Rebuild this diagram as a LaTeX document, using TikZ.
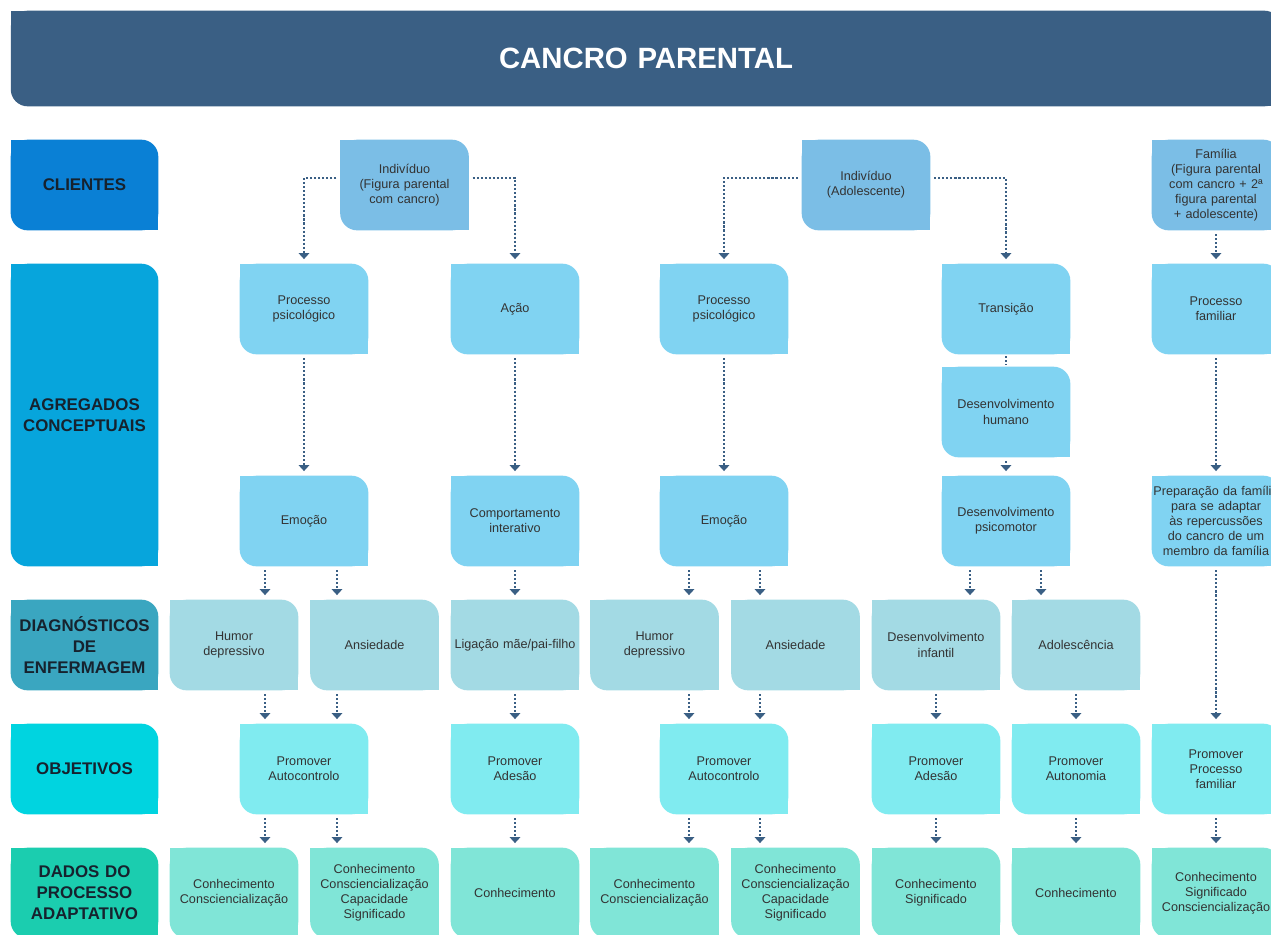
\documentclass[tikz,border=0pt]{standalone}
\usepackage{fontspec}
\setmainfont{Liberation Sans}
\usetikzlibrary{arrows.meta,backgrounds}

\definecolor{cabeca}{HTML}{3A5F84}
\definecolor{lcli}{HTML}{0A80D5}
\definecolor{lagr}{HTML}{07A5DC}
\definecolor{ldia}{HTML}{3AA6C0}
\definecolor{lobj}{HTML}{00D4E0}
\definecolor{ldad}{HTML}{1BCDAF}
\definecolor{ccli}{HTML}{7BBEE6}
\definecolor{cagr}{HTML}{80D3F2}
\definecolor{cdia}{HTML}{A3DAE4}
\definecolor{cobj}{HTML}{80EBF0}
\definecolor{cdad}{HTML}{80E5D7}
\definecolor{texto}{HTML}{333333}
\definecolor{escuro}{HTML}{16222E}

\tikzset{
  caixa/.style={text width=2.56cm, minimum height=1.8cm, inner xsep=0pt, inner ysep=1pt,
    align=center, text=texto, font=\fontsize{7.2}{8.6}\selectfont},
  rotulo/.style={text width=2.94cm, minimum height=1.8cm, inner xsep=0pt, inner ysep=1pt,
    align=center, text=escuro, font=\bfseries\fontsize{9.6}{11.9}\selectfont},
  seta/.style={-{Triangle[length=3.4pt,width=6pt]}, cabeca, line width=1.2pt,
    dash pattern=on 1.2pt off 1.1pt, shorten <=2.2pt, shorten >=2.6pt},
  linha/.style={seta, -, shorten <=1pt, shorten >=1pt},
}

\begin{document}
\begin{tikzpicture}[x=0.02cm,y=-0.02cm]
  \useasboundingbox (0,0) rectangle (1271,934);
  \clip (0,0) rectangle (1271,934);

  % titulo
  \node[rotulo, text width=25.4cm, minimum height=1.9cm, text=white,
    font=\bfseries\fontsize{16.7}{20}\selectfont] (cab) at (646,58.5) {CANCRO PARENTAL};

  % rotulos a esquerda
  \node[rotulo] (cli) at (84.5,185) {CLIENTES};
  \node[rotulo, minimum height=6.04cm] (agr) at (84.5,415) {AGREGADOS\\CONCEPTUAIS};
  \node[rotulo] (dia) at (84.5,645) {DIAGNÓSTICOS\\DE\\ENFERMAGEM};
  \node[rotulo] (obj) at (84.5,769) {OBJETIVOS};
  \node[rotulo] (dad) at (84.5,893) {DADOS DO\\PROCESSO\\ADAPTATIVO};

  % clientes
  \node[caixa] (i1) at (404.5,185) {Indivíduo\\(Figura parental\\com cancro)};
  \node[caixa] (i2) at (866,185) {Indivíduo\\(Adolescente)};
  \node[caixa] (fam) at (1216,185) {Família\\(Figura parental\\com cancro + 2ª\\figura parental\\+ adolescente)};

  % agregados conceptuais
  \node[caixa] (pp1) at (304,309) {Processo\\psicológico};
  \node[caixa] (acao) at (515,309) {Ação};
  \node[caixa] (pp2) at (724,309) {Processo\\psicológico};
  \node[caixa] (tra) at (1006,309) {Transição};
  \node[caixa] (pf) at (1216,309) {Processo\\familiar};
  \node[caixa] (dh) at (1006,412) {Desenvolvimento\\humano};
  \node[caixa] (em1) at (304,521) {Emoção};
  \node[caixa] (ci) at (515,521) {Comportamento\\interativo};
  \node[caixa] (em2) at (724,521) {Emoção};
  \node[caixa] (dp) at (1006,521) {Desenvolvimento\\psicomotor};
  \node[caixa] (prep) at (1216,521) {Preparação da família\\para se adaptar\\às repercussões\\do cancro de um\\membro da família};

  % diagnosticos
  \node[caixa] (hd1) at (234,645) {Humor\\depressivo};
  \node[caixa] (an1) at (374.5,645) {Ansiedade};
  \node[caixa] (lig) at (515,645) {Ligação mãe/pai-filho};
  \node[caixa] (hd2) at (654.5,645) {Humor\\depressivo};
  \node[caixa] (an2) at (795.5,645) {Ansiedade};
  \node[caixa] (di) at (936,645) {Desenvolvimento\\infantil};
  \node[caixa] (ado) at (1076,645) {Adolescência};

  % objetivos
  \node[caixa] (pa1) at (304,769) {Promover\\Autocontrolo};
  \node[caixa] (pad1) at (515,769) {Promover\\Adesão};
  \node[caixa] (pa2) at (724,769) {Promover\\Autocontrolo};
  \node[caixa] (pad2) at (936,769) {Promover\\Adesão};
  \node[caixa] (paut) at (1076,769) {Promover\\Autonomia};
  \node[caixa] (ppf) at (1216,769) {Promover\\Processo\\familiar};

  % dados do processo adaptativo
  \node[caixa] (d1) at (234,893) {Conhecimento\\Consciencialização};
  \node[caixa] (d2) at (374.5,893) {Conhecimento\\Consciencialização\\Capacidade\\Significado};
  \node[caixa] (d3) at (515,893) {Conhecimento};
  \node[caixa] (d4) at (654.5,893) {Conhecimento\\Consciencialização};
  \node[caixa] (d5) at (795.5,893) {Conhecimento\\Consciencialização\\Capacidade\\Significado};
  \node[caixa] (d6) at (936,893) {Conhecimento\\Significado};
  \node[caixa] (d7) at (1076,893) {Conhecimento};
  \node[caixa] (d8) at (1216,893) {Conhecimento\\Significado\\Consciencialização};

  % fundos (cantos redondos so em dois lados)
  \begin{scope}[on background layer]
    \clip (0,0) rectangle (1271,934);
    \foreach \cor/\lista in {cabeca/{cab}, lcli/{cli}, lagr/{agr}, ldia/{dia}, lobj/{obj}, ldad/{dad},
        ccli/{i1,i2,fam}, cagr/{pp1,acao,pp2,tra,pf,dh,em1,ci,em2,dp,prep},
        cdia/{hd1,an1,lig,hd2,an2,di,ado}, cobj/{pa1,pad1,pa2,pad2,paut,ppf},
        cdad/{d1,d2,d3,d4,d5,d6,d7,d8}}
      \foreach \n in \lista {
        \fill[\cor, rounded corners=0.34cm] (\n.south west) rectangle (\n.north east);
        \fill[\cor] (\n.north west) rectangle ([xshift=0.4cm,yshift=-0.4cm]\n.north west);
        \fill[\cor] (\n.south east) rectangle ([xshift=-0.4cm,yshift=0.4cm]\n.south east);
      }
  \end{scope}

  % colunas das setas
  \coordinate (xa) at (265,0);
  \coordinate (xb) at (337,0);
  \coordinate (xd) at (689,0);
  \coordinate (xe) at (760,0);
  \coordinate (xf) at (970,0);
  \coordinate (xg) at (1041,0);

  \draw[seta] ([yshift=0.14cm]i1.west) -| (pp1.north);
  \draw[seta] ([yshift=0.14cm]i1.east) -| (acao.north);
  \draw[seta] ([yshift=0.14cm]i2.west) -| (pp2.north);
  \draw[seta] ([yshift=0.14cm]i2.east) -| (tra.north);
  \draw[seta] (fam) -- (pf);

  \draw[seta] (pp1) -- (em1);
  \draw[seta] (acao) -- (ci);
  \draw[seta] (pp2) -- (em2);
  \draw[linha] (tra) -- (dh);
  \draw[seta] (dh) -- (dp);
  \draw[seta] (pf) -- (prep);

  \draw[seta] (em1.south -| xa) -- (hd1.north -| xa);
  \draw[seta] (em1.south -| xb) -- (an1.north -| xb);
  \draw[seta] (ci) -- (lig);
  \draw[seta] (em2.south -| xd) -- (hd2.north -| xd);
  \draw[seta] (em2.south -| xe) -- (an2.north -| xe);
  \draw[seta] (dp.south -| xf) -- (di.north -| xf);
  \draw[seta] (dp.south -| xg) -- (ado.north -| xg);
  \draw[seta] (prep) -- (ppf);

  \draw[seta] (hd1.south -| xa) -- (pa1.north -| xa);
  \draw[seta] (an1.south -| xb) -- (pa1.north -| xb);
  \draw[seta] (lig) -- (pad1);
  \draw[seta] (hd2.south -| xd) -- (pa2.north -| xd);
  \draw[seta] (an2.south -| xe) -- (pa2.north -| xe);
  \draw[seta] (di) -- (pad2);
  \draw[seta] (ado) -- (paut);

  \draw[seta] (pa1.south -| xa) -- (d1.north -| xa);
  \draw[seta] (pa1.south -| xb) -- (d2.north -| xb);
  \draw[seta] (pad1) -- (d3);
  \draw[seta] (pa2.south -| xd) -- (d4.north -| xd);
  \draw[seta] (pa2.south -| xe) -- (d5.north -| xe);
  \draw[seta] (pad2) -- (d6);
  \draw[seta] (paut) -- (d7);
  \draw[seta] (ppf) -- (d8);
\end{tikzpicture}
\end{document}
